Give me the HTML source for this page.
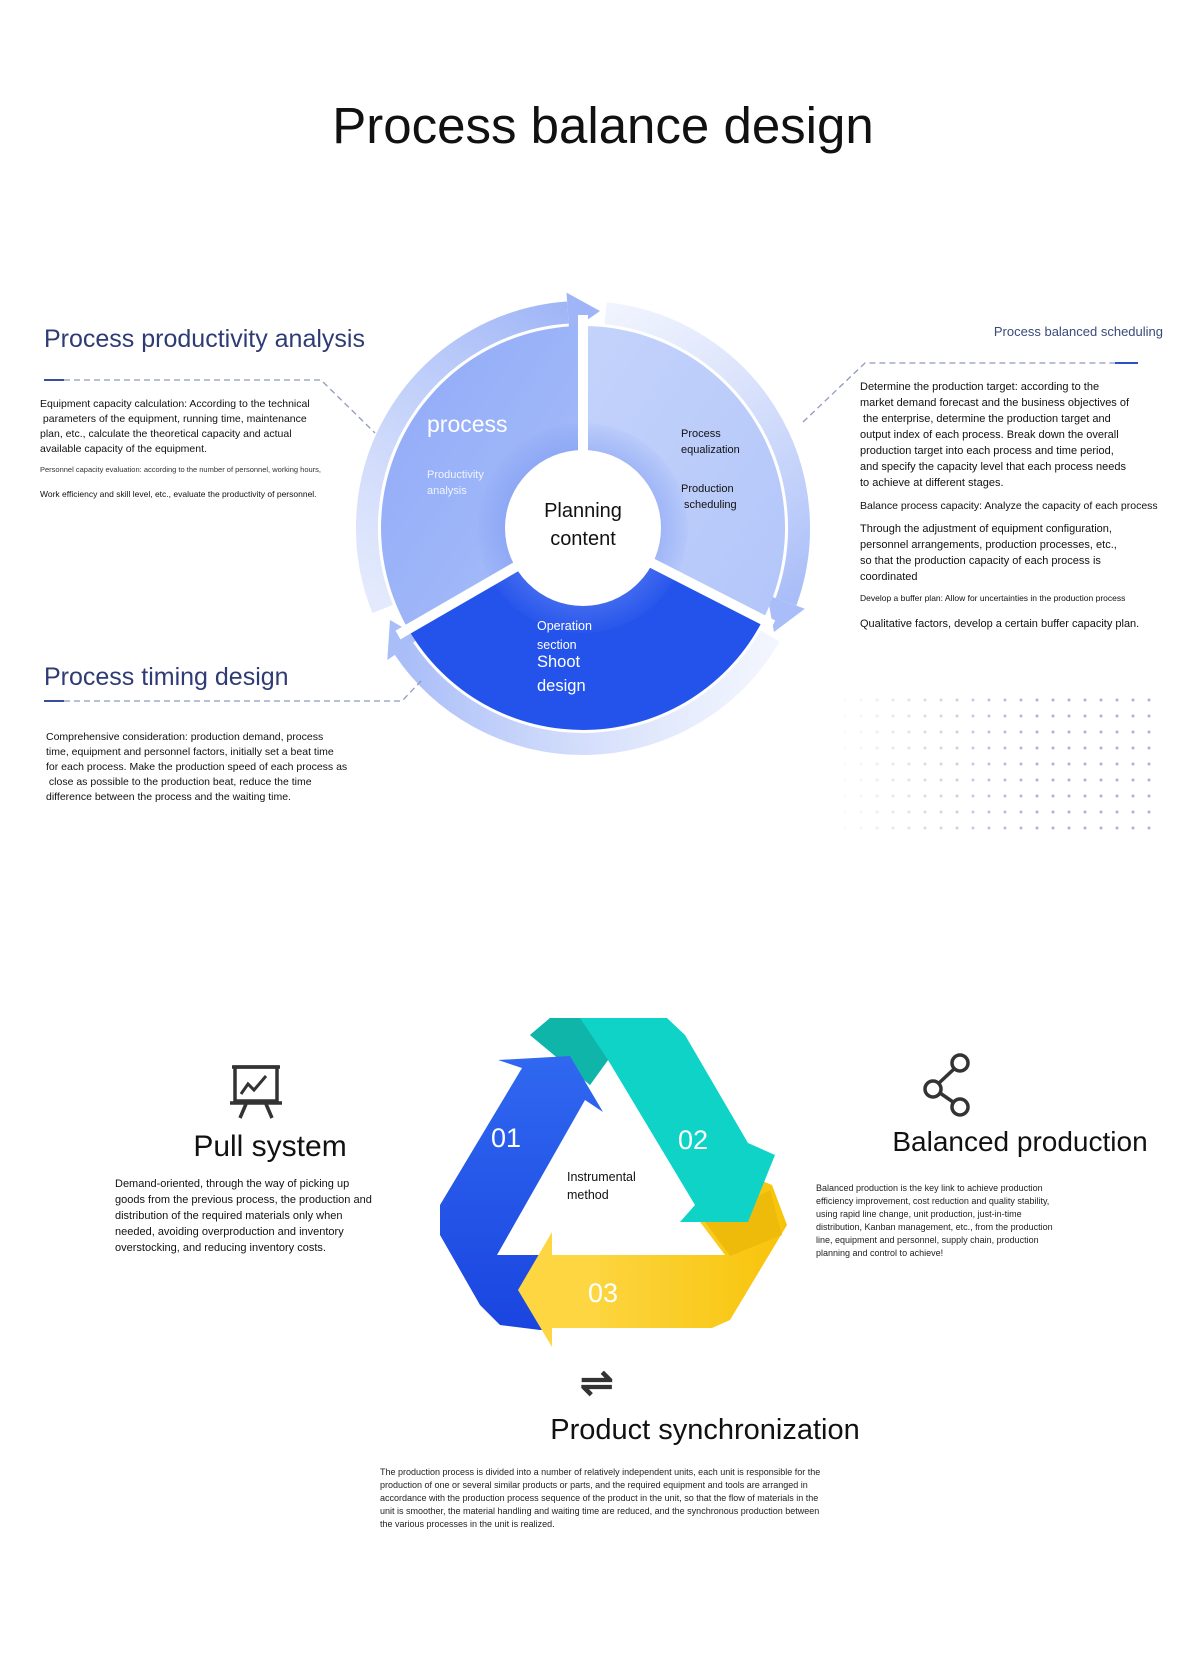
<!DOCTYPE html>
<html><head><meta charset="utf-8"><style>
body{margin:0;background:#fff;}
#c{position:relative;width:1200px;height:1656px;overflow:hidden;font-family:"Liberation Sans",sans-serif;color:#111;}
.t{position:absolute;white-space:nowrap;}
</style></head><body><div id="c">
<svg width="1200" height="1656" style="position:absolute;left:0;top:0">
<defs>
<linearGradient id="gl" x1="0" y1="0" x2="1" y2="1"><stop offset="0" stop-color="#8fa9f7"/><stop offset="1" stop-color="#a9bff9"/></linearGradient>
<linearGradient id="gr" x1="0" y1="0" x2="1" y2="1"><stop offset="0" stop-color="#c4d3fb"/><stop offset="1" stop-color="#b3c6fa"/></linearGradient>
<radialGradient id="gs" cx="583" cy="528" r="110" gradientUnits="userSpaceOnUse"><stop offset="0.6" stop-color="#6f8ff0" stop-opacity="0.5"/><stop offset="1" stop-color="#6f8ff0" stop-opacity="0"/></radialGradient>
<linearGradient id="gy" x1="0" y1="0" x2="1" y2="0"><stop offset="0" stop-color="#fdd84a"/><stop offset="1" stop-color="#f8c40a"/></linearGradient>
<linearGradient id="gb" x1="0" y1="0" x2="0" y2="1"><stop offset="0" stop-color="#3068f0"/><stop offset="1" stop-color="#1a45e0"/></linearGradient>
<linearGradient id="r1" gradientUnits="userSpaceOnUse" x1="383" y1="609" x2="575" y2="312"><stop offset="0" stop-color="#c9d6fb" stop-opacity="0.5"/><stop offset="1" stop-color="#9fb5f7"/></linearGradient>
<linearGradient id="r2" gradientUnits="userSpaceOnUse" x1="605" y1="313" x2="786" y2="602"><stop offset="0" stop-color="#e6ecfd" stop-opacity="0.6"/><stop offset="1" stop-color="#a9bdf8"/></linearGradient>
<linearGradient id="r3" gradientUnits="userSpaceOnUse" x1="770" y1="636" x2="404" y2="649"><stop offset="0" stop-color="#e6ecfd" stop-opacity="0.5"/><stop offset="1" stop-color="#a9bdf8"/></linearGradient>
</defs>
<!-- ring arrows -->
<g fill="none" stroke-width="22">
<path d="M382.7 609 A216 216 0 0 1 567.9 312.5" stroke="url(#r1)"/>
<path d="M605.6 313.2 A216 216 0 0 1 786 601.9" stroke="url(#r2)"/>
<path d="M770.1 636 A216 216 0 0 1 403.9 648.7" stroke="url(#r3)"/>
</g>
<polygon points="566.5,292.6 569.3,332.5 600,311" fill="#9fb5f7"/>
<polygon points="804.8,608.7 767.2,595 774,632" fill="#a9bdf8"/>
<polygon points="387.3,660 420.5,637.6 390,620" fill="#a9bdf8"/>
<!-- sectors -->
<path d="M583 528 L408.1 629 A202 202 0 0 1 583 326 Z" fill="url(#gl)"/>
<path d="M583 528 L583 326 A202 202 0 0 1 763 619.7 Z" fill="url(#gr)"/>
<path d="M583 528 L763 619.7 A202 202 0 0 1 408.1 629 Z" fill="#2453ec"/>
<circle cx="583" cy="528" r="105" fill="url(#gs)"/>
<g stroke="#fff" stroke-width="10"><line x1="583" y1="528" x2="583" y2="315"/><line x1="583" y1="528" x2="398" y2="635"/><line x1="583" y1="528" x2="773" y2="625"/></g>
<circle cx="583" cy="528" r="78" fill="#fff"/>
<!-- dashed connectors -->
<g fill="none" stroke="#8f9bbd" stroke-width="1.3" stroke-dasharray="6,4">
<path d="M64 380 L321 380 L375 433"/>
<path d="M64 701 L402 701 L421 681"/>
<path d="M803 422 L865 363 L1115 363"/>
</g>
<line x1="44" y1="380" x2="64" y2="380" stroke="#3a4d9a" stroke-width="2"/>
<line x1="44" y1="701" x2="64" y2="701" stroke="#3a4d9a" stroke-width="2"/>
<line x1="1115" y1="363" x2="1138" y2="363" stroke="#2d4fc8" stroke-width="2"/>
<!-- dot grid -->
<g fill="#aab6d6" id="dots"></g>
<!-- triangle -->
<polygon points="700,1222 755,1178 772,1185 787,1225 730,1320 712,1328 552,1328 552,1255 725,1255" fill="url(#gy)"/>
<polygon points="705,1222 770,1190 782,1235 730,1256" fill="#eebb0a"/>
<polygon points="530,1035 550,1018 667,1018 685,1035 748,1143 775,1155 748,1222 680,1222 695,1205 608,1060 590,1085" fill="#10d3c8"/>
<polygon points="530,1035 550,1018 580,1018 608,1060 590,1085" fill="#0fb5a8"/>
<polygon points="540,1330 500,1325 480,1305 440,1235 440,1205 522,1068 498,1060 570,1056 603,1112 585,1100 497,1255 545,1255 545,1330" fill="url(#gb)"/>
<polygon points="552,1232 518,1290 552,1347 552,1328 600,1328 600,1255 552,1255" fill="#fdd642"/>
</svg>
<script>
(function(){var g=document.getElementById('dots'),s='';for(var x=845;x<=1150;x+=16)for(var y=700;y<=832;y+=16){var o=Math.min(1,(x-830)/200);s+='<circle cx="'+x+'" cy="'+y+'" r="1.5" opacity="'+o.toFixed(2)+'"/>';}g.innerHTML=s;})();
</script>
<div class="t" style="left:0;width:1206px;text-align:center;top:94px;font-size:51px;line-height:64px;">Process balance design</div>

<div class="t" style="left:44px;top:322px;font-size:25px;line-height:34px;color:#2f3b75;">Process productivity analysis</div>
<div class="t" style="left:40px;top:397px;font-size:10.5px;line-height:15px;">Equipment capacity calculation: According to the technical<br>&nbsp;parameters of the equipment, running time, maintenance<br>plan, etc., calculate the theoretical capacity and actual<br>available capacity of the equipment.</div>
<div class="t" style="left:40px;top:465px;font-size:7.5px;line-height:10px;color:#333;">Personnel capacity evaluation: according to the number of personnel, working hours,</div>
<div class="t" style="left:40px;top:488px;font-size:8.5px;line-height:12px;">Work efficiency and skill level, etc., evaluate the productivity of personnel.</div>

<div class="t" style="left:44px;top:660px;font-size:25px;line-height:34px;color:#2f3b75;">Process timing design</div>
<div class="t" style="left:46px;top:730px;font-size:10.5px;line-height:15px;">Comprehensive consideration: production demand, process<br>time, equipment and personnel factors, initially set a beat time<br>for each process. Make the production speed of each process as<br>&nbsp;close as possible to the production beat, reduce the time<br>difference between the process and the waiting time.</div>

<div class="t" style="right:37px;top:323px;font-size:13px;line-height:18px;color:#3a4a7a;">Process balanced scheduling</div>
<div class="t" style="left:860px;top:379px;font-size:11px;line-height:16px;">Determine the production target: according to the<br>market demand forecast and the business objectives of<br>&nbsp;the enterprise, determine the production target and<br>output index of each process. Break down the overall<br>production target into each process and time period,<br>and specify the capacity level that each process needs<br>to achieve at different stages.</div>
<div class="t" style="left:860px;top:498px;font-size:10.5px;line-height:16px;">Balance process capacity: Analyze the capacity of each process</div>
<div class="t" style="left:860px;top:521px;font-size:11px;line-height:16px;">Through the adjustment of equipment configuration,<br>personnel arrangements, production processes, etc.,<br>so that the production capacity of each process is<br>coordinated</div>
<div class="t" style="left:860px;top:592px;font-size:8.5px;line-height:12px;">Develop a buffer plan: Allow for uncertainties in the production process</div>
<div class="t" style="left:860px;top:616px;font-size:11px;line-height:16px;">Qualitative factors, develop a certain buffer capacity plan.</div>

<div class="t" style="left:427px;top:409px;font-size:23px;line-height:30px;color:#fff;">process</div>
<div class="t" style="left:427px;top:467px;font-size:11px;line-height:16px;color:#f0f4ff;">Productivity<br>analysis</div>
<div class="t" style="left:681px;top:426px;font-size:11px;line-height:16px;">Process<br>equalization</div>
<div class="t" style="left:681px;top:481px;font-size:11px;line-height:16px;">Production<br>&nbsp;scheduling</div>
<div class="t" style="left:503px;width:160px;text-align:center;top:497px;font-size:20px;line-height:28px;">Planning<br>content</div>
<div class="t" style="left:537px;top:617px;font-size:12.5px;line-height:19px;color:#fff;">Operation<br>section</div>
<div class="t" style="left:537px;top:650px;font-size:16.5px;line-height:24px;color:#fff;">Shoot<br>design</div>

<div class="t" style="left:491px;top:1120px;font-size:27px;line-height:36px;color:#fff;">01</div>
<div class="t" style="left:678px;top:1122px;font-size:27px;line-height:36px;color:#fff;">02</div>
<div class="t" style="left:588px;top:1275px;font-size:27px;line-height:36px;color:#fff;">03</div>
<div class="t" style="left:567px;top:1168px;font-size:12.5px;line-height:18px;">Instrumental<br>method</div>

<svg width="60" height="60" style="position:absolute;left:226px;top:1062px" viewBox="0 0 60 60" fill="none" stroke="#333" stroke-width="3.5">
<line x1="6" y1="5" x2="54" y2="5"/><rect x="9" y="5" width="42" height="34"/><line x1="4" y1="41" x2="56" y2="41"/>
<polyline points="15,32 22,22 28,28 40,14" stroke-width="3"/><line x1="20" y1="42" x2="14" y2="56"/><line x1="40" y1="42" x2="46" y2="56"/>
</svg>
<div class="t" style="left:120px;width:300px;text-align:center;top:1128px;font-size:30px;line-height:38px;">Pull system</div>
<div class="t" style="left:115px;top:1176px;font-size:11px;line-height:16px;">Demand-oriented, through the way of picking up<br>goods from the previous process, the production and<br>distribution of the required materials only when<br>needed, avoiding overproduction and inventory<br>overstocking, and reducing inventory costs.</div>

<svg width="60" height="66" style="position:absolute;left:920px;top:1052px" viewBox="0 0 60 66" fill="none" stroke="#333" stroke-width="3.5">
<circle cx="40" cy="11" r="8"/><circle cx="13" cy="37" r="8"/><circle cx="40" cy="55" r="8"/>
<line x1="34" y1="17" x2="19" y2="31"/><line x1="20" y1="41" x2="33" y2="50"/>
</svg>
<div class="t" style="left:860px;width:320px;text-align:center;top:1124px;font-size:28px;line-height:36px;">Balanced production</div>
<div class="t" style="left:816px;top:1182px;font-size:9px;line-height:13px;color:#222;">Balanced production is the key link to achieve production<br>efficiency improvement, cost reduction and quality stability,<br>using rapid line change, unit production, just-in-time<br>distribution, Kanban management, etc., from the production<br>line, equipment and personnel, supply chain, production<br>planning and control to achieve!</div>

<div class="t" style="left:580px;top:1358px;font-size:40px;line-height:50px;color:#333;font-weight:bold;">⇌</div>
<div class="t" style="left:500px;width:410px;text-align:center;top:1411px;font-size:29px;line-height:38px;">Product synchronization</div>
<div class="t" style="left:380px;top:1466px;font-size:9px;line-height:13px;color:#222;">The production process is divided into a number of relatively independent units, each unit is responsible for the<br>production of one or several similar products or parts, and the required equipment and tools are arranged in<br>accordance with the production process sequence of the product in the unit, so that the flow of materials in the<br>unit is smoother, the material handling and waiting time are reduced, and the synchronous production between<br>the various processes in the unit is realized.</div>
</div></body></html>
